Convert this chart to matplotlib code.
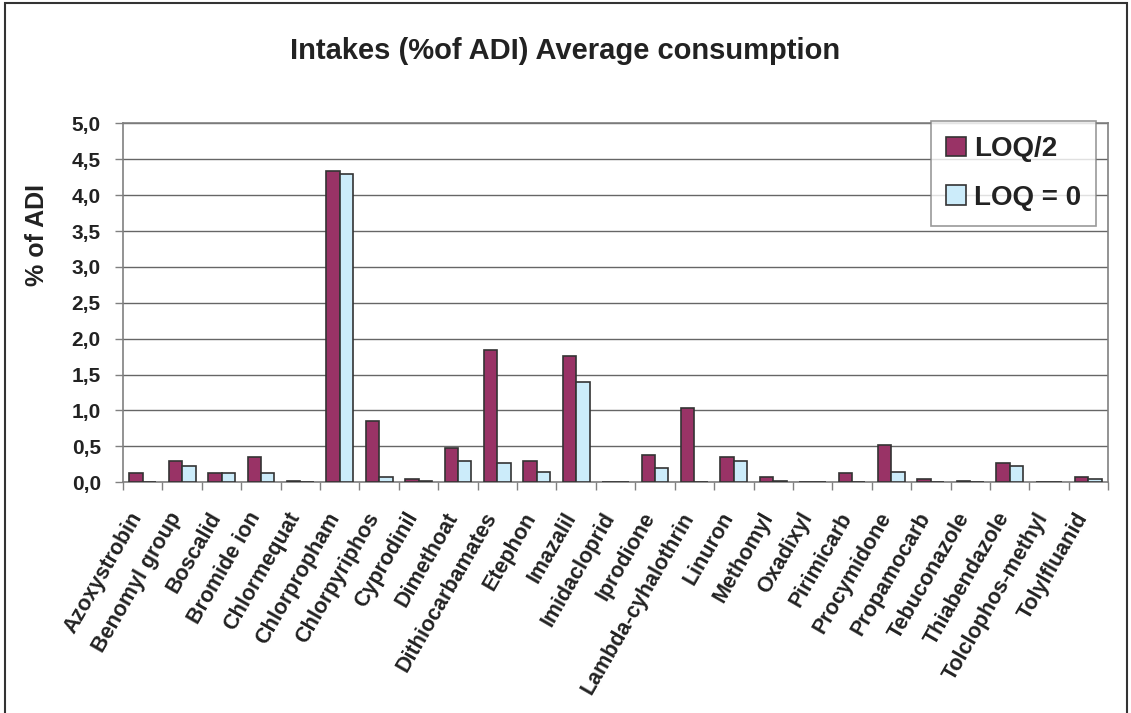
import numpy as np
import matplotlib.pyplot as plt
import matplotlib.transforms as mtransforms
from matplotlib.patches import Rectangle

plt.rcParams['font.family'] = ['Liberation Sans', 'DejaVu Sans']
plt.rcParams['font.weight'] = 'bold'

pesticides = ['Azoxystrobin', 'Benomyl group', 'Boscalid', 'Bromide ion', 'Chlormequat',
              'Chlorpropham', 'Chlorpyriphos', 'Cyprodinil', 'Dimethoat', 'Dithiocarbamates',
              'Etephon', 'Imazalil', 'Imidacloprid', 'Iprodione', 'Lambda-cyhalothrin',
              'Linuron', 'Methomyl', 'Oxadixyl', 'Pirimicarb', 'Procymidone', 'Propamocarb',
              'Tebuconazole', 'Thiabendazole', 'Tolclophos-methyl', 'Tolylfluanid']

loq_half = [0.13, 0.30, 0.13, 0.35, 0.02, 4.34, 0.86, 0.05, 0.48, 1.84,
            0.30, 1.76, 0.0, 0.38, 1.03, 0.35, 0.07, 0.0, 0.13, 0.52,
            0.05, 0.02, 0.27, 0.0, 0.07]
loq_zero = [0.0, 0.22, 0.13, 0.13, 0.0, 4.30, 0.07, 0.02, 0.30, 0.27,
            0.15, 1.40, 0.0, 0.20, 0.0, 0.30, 0.02, 0.0, 0.0, 0.15,
            0.0, 0.0, 0.23, 0.0, 0.05]

yticks = np.arange(0, 5.01, 0.5)
ytick_labels = [f"{v:.1f}".replace('.', ',') for v in yticks]

txt = '#222222'
fig = plt.figure(figsize=(11.31, 7.13), dpi=100)
ax = fig.add_axes([0.1088, 0.3236, 0.871, 0.5034])

x = np.arange(len(pesticides))
w = 0.34
ax.bar(x - w / 2, loq_half, w, color='#993366', edgecolor='#333333', linewidth=1.2,
       label='LOQ/2', zorder=3)
ax.bar(x + w / 2, loq_zero, w, color='#CCECFA', edgecolor='#333333', linewidth=1.2,
       label='LOQ = 0', zorder=3)

ax.set_xlim(-0.5, len(pesticides) - 0.5)
ax.set_ylim(0, 5.0)
ax.set_yticks(yticks)
ax.set_yticklabels(ytick_labels, fontsize=15, fontweight='bold', color=txt)
ax.yaxis.grid(True, color='#666666', linewidth=1.0, zorder=0)
ax.set_axisbelow(True)

ax.set_xticks(x)
ax.set_xticklabels(pesticides, rotation=60, ha='right', rotation_mode='anchor',
                   fontsize=15.5, fontweight='bold', color=txt)
ax.tick_params(axis='x', length=0, pad=19)
shift = mtransforms.ScaledTranslation(-14 / 100, 0, fig.dpi_scale_trans)
for lab in ax.get_xticklabels():
    lab.set_transform(lab.get_transform() + shift)
ax.set_xticks(np.arange(-0.5, len(pesticides), 1), minor=True)
ax.tick_params(axis='x', which='minor', length=6, color='#808080', width=1)
ax.tick_params(axis='y', length=6, color='#808080', width=1, pad=10)

for s in ax.spines.values():
    s.set_color('#808080')
    s.set_linewidth(1.2)

ax.set_ylabel('% of ADI', fontsize=18, fontweight='bold', color=txt)
ax.yaxis.set_label_coords(-0.075, 0.69)
fig.text(0.5, 0.928, 'Intakes (%of ADI) Average consumption', ha='center', va='center',
         fontsize=21, fontweight='bold', color=txt)

leg = ax.legend(loc='upper right', bbox_to_anchor=(0.988, 1.006), fontsize=20,
                frameon=True, fancybox=False, handlelength=0.7, handleheight=0.7,
                handletextpad=0.3, labelspacing=0.8, borderpad=0.55, borderaxespad=0)
leg.get_frame().set_edgecolor('#808080')
leg.get_frame().set_linewidth(1.2)
for t in leg.get_texts():
    t.set_color(txt)

fig.patches.append(Rectangle((5 / 1131, -0.05), 1122 / 1131, 1.05 - 3 / 713,
                             transform=fig.transFigure, fill=False,
                             edgecolor='#333333', linewidth=1.5))

fig.savefig('out.png', dpi=100)
